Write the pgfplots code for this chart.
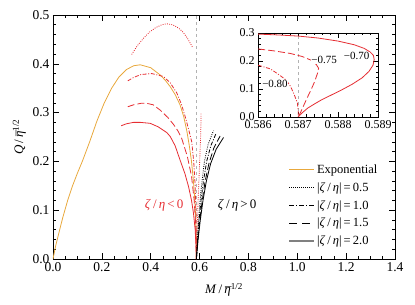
\documentclass[border=0pt]{standalone}
\usepackage{fontspec}
\setmainfont{Liberation Serif}
\usepackage{pgfplots}
\pgfplotsset{compat=1.18}
\definecolor{myred}{RGB}{230,45,50}
\definecolor{myorange}{RGB}{232,168,60}
\tikzset{
  pdot/.style={dash pattern=on 0.9pt off 1.3pt},
  pdashdot/.style={dash pattern=on 4pt off 1.6pt on 1pt off 1.6pt},
  pdash/.style={dash pattern=on 7pt off 3pt},
}
\newcommand{\etabar}{\ooalign{\textit{η}\cr\hidewidth\kern0.12em\raisebox{-0.2em}{¯}\hidewidth\cr}}
\newcommand{\Qlab}{\textit{Q}\,/\,\etabar\textsuperscript{1/2}}
\newcommand{\Mlab}{\textit{M}\,/\,\etabar\textsuperscript{1/2}}
\newcommand{\ze}{\textit{ζ}\,/\,\textit{η}}
\begin{document}
\begin{tikzpicture}
\begin{axis}[name=main,
  width=342pt, height=244pt, scale only axis,
  xmin=0, xmax=1.4, ymin=0, ymax=0.5,
  xtick={0,0.2,0.4,0.6,0.8,1.0,1.2,1.4},
  ytick={0,0.1,0.2,0.3,0.4,0.5},
  minor x tick num=3, minor y tick num=4,
  tick align=inside, major tick length=6pt, minor tick length=3pt,
  axis line style={line width=0.8pt}, every tick/.style={line width=0.6pt, black},
  /pgf/number format/assume math mode=true,
  xticklabel style={/pgf/number format/.cd,fixed,fixed zerofill,precision=1},
  yticklabel style={/pgf/number format/.cd,fixed,fixed zerofill,precision=1},
  tick label style={font=\fontsize{13.5}{14}\selectfont},
  label style={font=\fontsize{13}{14}\selectfont},
  xlabel={\Mlab}, ylabel={\Qlab},
  xlabel style={yshift=-5pt},
  legend style={draw=none, fill=none, at={(axis cs:0.952,0.202)}, anchor=north west,
    font=\fontsize{12.5}{13}\selectfont, row sep=3.6pt},
  legend cell align=left,
  legend image code/.code={\draw[#1] (0pt,0pt) -- (25pt,0pt);},
]
\coordinate (insetpos) at (axis cs:0.840,0.291);
% vertical reference line
\addplot[gray!60, dashed, line width=0.6pt, forget plot] coordinates {(0.587,0) (0.587,0.5)};
% Exponential
\addplot[myorange, line width=0.8pt, forget plot] coordinates {
(0,0) (0.01,0.025) (0.02,0.045) (0.04,0.085) (0.06,0.120) (0.08,0.150) (0.10,0.176)
(0.12,0.200) (0.15,0.240) (0.18,0.283) (0.21,0.320) (0.24,0.350) (0.27,0.373)
(0.30,0.388) (0.33,0.396) (0.357,0.398) (0.40,0.392) (0.439,0.377) (0.46,0.366)
(0.48,0.353) (0.50,0.337) (0.52,0.316) (0.535,0.292) (0.548,0.262) (0.558,0.232)
(0.567,0.200) (0.574,0.165) (0.580,0.125) (0.584,0.085) (0.586,0.045) (0.587,0)};
% zeta/eta < 0 (red)
\addplot[myred, pdot, line width=0.8pt, forget plot] coordinates {
(0.322,0.419) (0.345,0.437) (0.370,0.452) (0.395,0.465) (0.42,0.474) (0.445,0.480)
(0.466,0.482) (0.49,0.480) (0.515,0.473) (0.534,0.464) (0.552,0.451) (0.571,0.434)};
\addplot[myred, pdot, line width=0.8pt, forget plot] coordinates {
(0.606,0.298) (0.605,0.26) (0.602,0.22) (0.598,0.17) (0.594,0.12) (0.590,0.06) (0.587,0)};
\addplot[myred, pdashdot, line width=0.8pt, forget plot] coordinates {
(0.306,0.365) (0.33,0.372) (0.36,0.378) (0.404,0.380) (0.452,0.374) (0.48,0.361)
(0.507,0.340) (0.525,0.318) (0.541,0.292) (0.555,0.266) (0.568,0.240) (0.576,0.200)
(0.582,0.150) (0.585,0.100) (0.586,0.050) (0.587,0)};
\addplot[myred, pdash, line width=0.8pt, forget plot] coordinates {
(0.306,0.312) (0.33,0.316) (0.36,0.319) (0.384,0.319) (0.41,0.316) (0.439,0.305)
(0.47,0.290) (0.493,0.276) (0.512,0.262) (0.527,0.247) (0.55,0.210) (0.567,0.170)
(0.578,0.120) (0.584,0.070) (0.587,0)};
\addplot[myred, line width=0.8pt, forget plot] coordinates {
(0.279,0.273) (0.30,0.277) (0.33,0.280) (0.357,0.280) (0.398,0.278) (0.43,0.271)
(0.466,0.259) (0.48,0.251) (0.50,0.232) (0.520,0.203) (0.540,0.175) (0.555,0.148)
(0.567,0.120) (0.575,0.094) (0.582,0.060) (0.585,0.030) (0.587,0)};
% zeta/eta > 0 (black)
\addplot[black, pdot, line width=0.8pt, forget plot] coordinates {
(0.587,0) (0.591,0.04) (0.596,0.08) (0.602,0.12) (0.610,0.16) (0.620,0.20) (0.635,0.235) (0.657,0.263)};
\addplot[black, pdashdot, line width=0.8pt, forget plot] coordinates {
(0.587,0) (0.592,0.04) (0.598,0.08) (0.606,0.12) (0.616,0.16) (0.629,0.20) (0.646,0.232) (0.668,0.258)};
\addplot[black, pdash, line width=0.8pt, forget plot] coordinates {
(0.587,0) (0.593,0.04) (0.601,0.08) (0.611,0.12) (0.623,0.16) (0.638,0.195) (0.658,0.227) (0.684,0.252)};
\addplot[black, line width=0.8pt, forget plot] coordinates {
(0.587,0) (0.594,0.04) (0.603,0.08) (0.614,0.12) (0.628,0.16) (0.645,0.195) (0.668,0.225) (0.698,0.249)};
% labels
\node[myred, font=\fontsize{13}{14}\selectfont] at (axis cs:0.455,0.109) {\ze\,<\,0};
\node[black, font=\fontsize{13}{14}\selectfont] at (axis cs:0.754,0.109) {\ze\,>\,0};
% legend
\addlegendimage{myorange, line width=0.8pt}
\addlegendimage{black, dash pattern=on 0.9pt off 1.1pt, line width=0.8pt}
\addlegendimage{black, dash pattern=on 5pt off 2pt on 1pt off 2pt, line width=0.8pt}
\addlegendimage{black, dash pattern=on 8pt off 5pt, line width=0.8pt}
\addlegendimage{gray, line width=1.3pt}
\legend{{Exponential},{|\ze|\,=\,0.5},{|\ze|\,=\,1.0},{|\ze|\,=\,1.5},{|\ze|\,=\,2.0}}
\end{axis}

\begin{axis}[name=inset, at={(insetpos)}, anchor=south west,
  width=120pt, height=84pt, scale only axis,
  axis background/.style={fill=white},
  xmin=0.586, xmax=0.589, ymin=0, ymax=0.3,
  xtick={0.586,0.587,0.588,0.589}, ytick={0,0.1,0.2,0.3},
  minor x tick num=4, minor y tick num=4,
  scaled x ticks=false, scaled y ticks=false,
  tick align=inside, major tick length=5pt, minor tick length=2.5pt,
  axis line style={line width=0.8pt}, every tick/.style={line width=0.6pt, black},
  /pgf/number format/assume math mode=true,
  xticklabel style={/pgf/number format/.cd,fixed,fixed zerofill,precision=3},
  yticklabel style={/pgf/number format/.cd,fixed,fixed zerofill,precision=1},
  tick label style={font=\fontsize{12}{13}\selectfont},
]
\addplot[gray!60, dashed, line width=0.6pt] coordinates {(0.587,0) (0.587,0.3)};
\addplot[myred, line width=0.8pt] coordinates {
(0.5860,0.296) (0.5865,0.293) (0.5870,0.289) (0.5875,0.282) (0.5880,0.271) (0.5884,0.258)
(0.58865,0.245) (0.5888,0.232) (0.58888,0.220) (0.5889,0.205) (0.58887,0.185)
(0.58877,0.163) (0.58860,0.140) (0.58835,0.117) (0.58809,0.097) (0.58785,0.080)
(0.58758,0.061) (0.58740,0.046) (0.58724,0.032) (0.58710,0.015) (0.5870,0)};
\addplot[myred, pdash, line width=0.8pt] coordinates {
(0.5860,0.243) (0.5864,0.236) (0.5868,0.227) (0.5871,0.216) (0.58732,0.203) (0.58745,0.188)
(0.58751,0.174) (0.58748,0.155) (0.58741,0.126) (0.58733,0.100) (0.58724,0.073) (0.58715,0.045)
(0.58707,0.020) (0.5870,0)};
\addplot[myred, pdashdot, line width=0.8pt] coordinates {
(0.5860,0.185) (0.5863,0.172) (0.58647,0.156) (0.5867,0.132) (0.58681,0.109) (0.5869,0.080)
(0.58698,0.050) (0.5870,0.02) (0.5870,0)};
\node[font=\fontsize{11}{12}\selectfont, fill=white, inner sep=0.5pt] at (axis cs:0.58642,0.118) {−0.80};
\node[font=\fontsize{11}{12}\selectfont, fill=white, inner sep=0.5pt] at (axis cs:0.58765,0.205) {−0.75};
\node[font=\fontsize{11}{12}\selectfont, fill=white, inner sep=0.5pt] at (axis cs:0.58846,0.217) {−0.70};
\end{axis}
\path (main.south west) ++(-53pt,-46pt) coordinate (bbA);
\path (main.north east) ++(20pt,15pt) coordinate (bbB);
\pgfresetboundingbox
\path (bbA) rectangle (bbB);
\end{tikzpicture}
\end{document}
